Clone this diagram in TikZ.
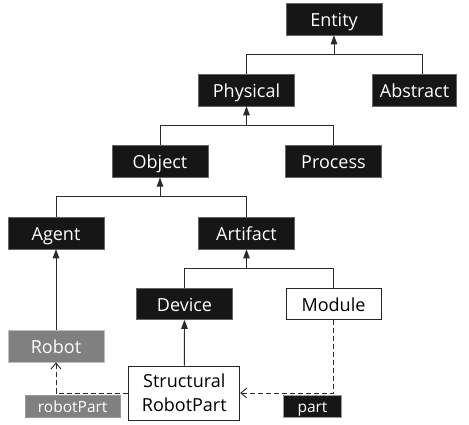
\documentclass[tikz,border=0pt]{standalone}
\usepackage{fontspec}
\setmainfont{Open Sans}
\usetikzlibrary{arrows.meta}
\definecolor{boxblack}{HTML}{161616}
\definecolor{boxgray}{HTML}{808080}
\definecolor{linecol}{HTML}{2A2A2A}
\tikzset{
  base/.style={font=\fontsize{18}{21}\selectfont, inner sep=0pt, align=center, text height=15.3pt, text depth=0pt},
  cls/.style={base, draw=black!60, line width=0.6pt, fill=boxblack, text=white, minimum height=32pt},
  wcls/.style={base, draw=black!85, line width=0.8pt, fill=white, text=black, minimum height=31pt},
  gcls/.style={base, draw=black!25, line width=0.6pt, fill=boxgray, text=white, minimum height=32pt},
  lbl/.style={draw=black!40, line width=0.5pt, text=white, font=\fontsize{15.5}{17}\selectfont, minimum height=22pt, inner sep=0pt, text height=11.8pt, text depth=0pt},
  gen/.style={draw=linecol, line width=0.9pt, -{Triangle[length=9pt,width=6.5pt]}},
  tree/.style={draw=linecol, line width=0.9pt},
  dep/.style={draw=linecol, line width=0.9pt, dash pattern=on 5pt off 3pt, -{Straight Barb[length=6pt,width=10pt]}}
}
\begin{document}
\begin{tikzpicture}[x=1pt,y=-1pt]
\useasboundingbox (0,0) rectangle (469,424);
% nodes
\node[cls, minimum width=96pt] (entity) at (334,19) {Entity};
\node[cls, minimum width=96pt] (physical) at (246.5,90) {Physical};
\node[cls, minimum width=84pt] (abstract) at (414.5,90) {Abstract};
\node[cls, minimum width=96pt] (object) at (160,161.3) {Object};
\node[cls, minimum width=96pt] (process) at (333.5,161.3) {Process};
\node[cls, minimum width=96pt] (agent) at (56,233) {Agent};
\node[cls, minimum width=96pt] (artifact) at (246.5,233) {Artifact};
\node[cls, minimum width=96pt, minimum height=31pt] (device) at (184.5,304) {Device};
\node[wcls, minimum width=95pt] (module) at (333.5,304) {Module};
\node[gcls, minimum width=96pt] (robot) at (56,346) {Robot};
\node[draw=black!85, line width=0.8pt, fill=white, text=black, inner sep=0pt, align=center, minimum width=111pt, minimum height=54pt, font=\fontsize{18}{24}\selectfont] (srp) at (184.3,393) {Structural\\RobotPart};
\node[lbl, fill=boxgray, minimum width=95pt] (robotpart) at (72.7,406.7) {robotPart};
\node[lbl, fill=boxblack, minimum width=57.6pt] (part) at (312.5,406.7) {part};
% junctions
\coordinate (j1) at (334,54.3);
\coordinate (j2) at (246.5,125.7);
\coordinate (j3) at (160,196.7);
\coordinate (j4) at (246.5,268.3);
% tree: Entity
\draw[gen] (j1) -- (entity.south);
\draw[tree] (physical.north) |- (j1);
\draw[tree] ([xshift=8pt]abstract.north) |- (j1);
% tree: Physical
\draw[gen] (j2) -- (physical.south);
\draw[tree] (object.north) |- (j2);
\draw[tree] (process.north) |- (j2);
% tree: Object
\draw[gen] (j3) -- (object.south);
\draw[tree] (agent.north) |- (j3);
\draw[tree] (artifact.north) |- (j3);
% tree: Artifact
\draw[gen] (j4) -- (artifact.south);
\draw[tree] (device.north) |- (j4);
\draw[tree] (module.north) |- (j4);
% direct
\draw[gen] (robot.north) -- (agent.south);
\draw[gen] (srp.north) -- (device.south);
% dependencies
\draw[dep] (srp.west) -| (robot.south);
\draw[dep] (module.south) |- (srp.east);
\end{tikzpicture}
\end{document}
